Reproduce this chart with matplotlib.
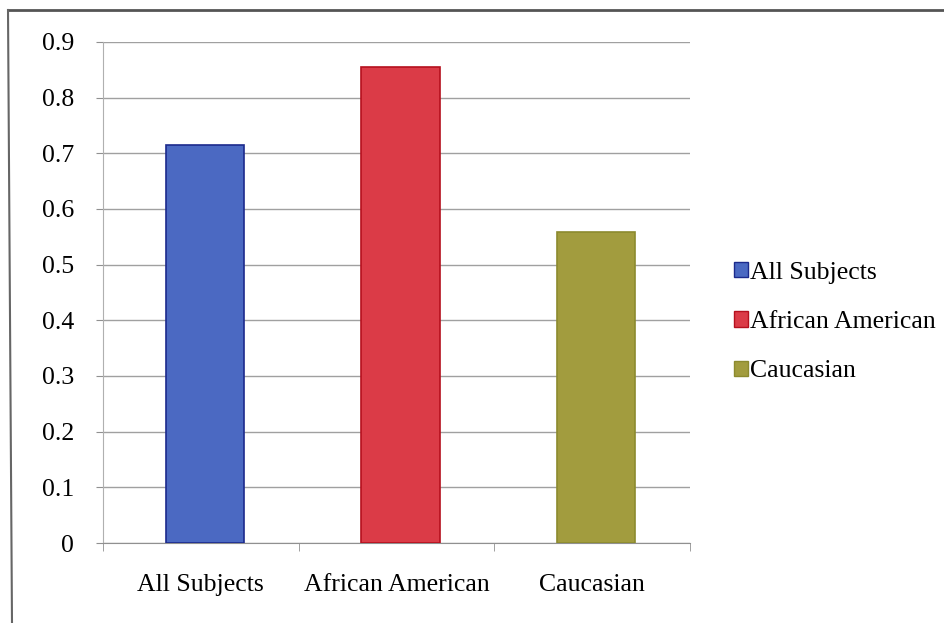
import matplotlib
matplotlib.use("Agg")
import matplotlib.pyplot as plt
from matplotlib.patches import Patch
from matplotlib.lines import Line2D

categories = ["All Subjects", "African American", "Caucasian"]
values = [0.715, 0.855, 0.559]
colors = ["#4b69c2", "#db3b47", "#a29c3e"]
edges = ["#1c2a8c", "#b5101e", "#8c8a2e"]
yticks = [0, 0.1, 0.2, 0.3, 0.4, 0.5, 0.6, 0.7, 0.8, 0.9]
ytick_labels = ["0", "0.1", "0.2", "0.3", "0.4", "0.5", "0.6", "0.7", "0.8", "0.9"]

plt.rcParams['font.family'] = ['Liberation Serif', 'DejaVu Serif']

fig = plt.figure(figsize=(9.45, 6.23), dpi=100)
ax = fig.add_axes([103/945, 1-543/623, (690-103)/945, (543-42)/623])

x = list(range(len(categories)))
ax.bar([xi + 0.02 for xi in x], values, width=0.40, color=colors, edgecolor=edges,
       linewidth=1.2, zorder=3)

ax.set_xlim(-0.5, 2.5)
ax.set_ylim(0, 0.9)
ax.set_yticks(yticks)
ax.set_yticklabels(ytick_labels, fontsize=18.5)
ax.set_xticks(x)
ax.set_xticklabels(categories, fontsize=18.5)
ax.set_xticks([-0.5, 0.5, 1.5, 2.5], minor=True)
ax.tick_params(axis='x', which='major', length=0, pad=22)
ax.tick_params(axis='x', which='minor', length=6, color='#909090', direction='out')
ax.tick_params(axis='y', length=5, color='#909090', direction='out', pad=16)

ax.yaxis.grid(True, color='#a0a0a0', linewidth=1.0, zorder=0)
for s in ['top', 'right']:
    ax.spines[s].set_visible(False)
ax.spines['left'].set_color('#b0b0b0')
ax.spines['bottom'].set_color('#909090')

handles = [Patch(facecolor=c, edgecolor=e, linewidth=1.0) for c, e in zip(colors, edges)]
fig.legend(handles, categories, loc='center left', bbox_to_anchor=(0.752, 1-322/623),
           frameon=False, fontsize=18.5, handlelength=0.55, handleheight=0.55,
           handletextpad=0.1, labelspacing=1.07)

# outer frame (top and left edges visible)
fig.add_artist(Line2D([8/945, 1.0], [1-10/623, 1-10/623], transform=fig.transFigure,
                      color='#555555', linewidth=2))
fig.add_artist(Line2D([8/945, 12/945], [1-10/623, 0.0], transform=fig.transFigure,
                      color='#666666', linewidth=1.5))

fig.savefig("out.png", dpi=100)
